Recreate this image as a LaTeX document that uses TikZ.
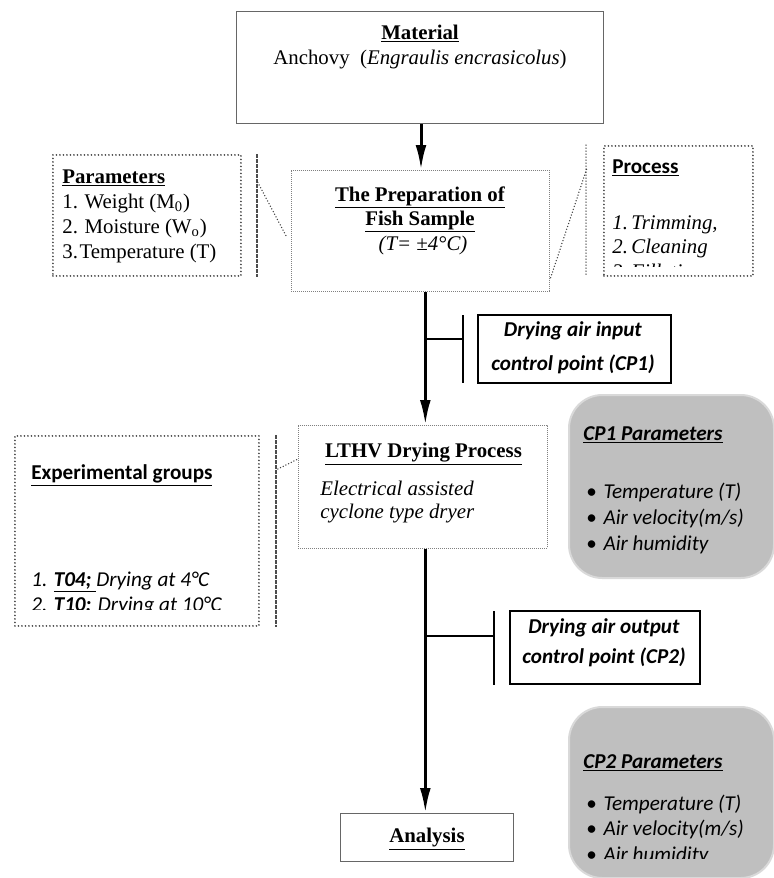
\documentclass[tikz,border=0pt]{standalone}
\usepackage{fontspec}
\setmainfont{Liberation Serif}
\newfontfamily\calibri{Carlito}
\usetikzlibrary{arrows.meta,positioning}

\tikzset{
  box/.style={draw=gray!80!black, line width=0.6pt, inner sep=0pt, anchor=north west},
  finebox/.style={draw=gray, line width=0.4pt, dash pattern=on 0.6pt off 0.6pt, inner sep=0pt, anchor=north west},
  dotbox/.style={draw=gray!50!black, line width=1.1pt, dash pattern=on 0pt off 2.1pt, line cap=round, inner sep=0pt, anchor=north west},
  cpbox/.style={draw, line width=1.2pt, inner sep=0pt, anchor=north west},
  parbox/.style={fill=gray!50, draw=gray!30, line width=1.2pt, rounded corners=20pt, inner sep=0pt, anchor=north west},
  flow/.style={line width=1.8pt, -{Latex[length=15pt,width=6.5pt]}},
  tap/.style={line width=1.2pt},
  grayrule/.style={draw=gray!60!black, line width=1.1pt, dash pattern=on 2.5pt off 0.5pt},
  dotlink/.style={draw=gray!50!black, line width=0.9pt, dash pattern=on 0pt off 1.8pt, line cap=round},
  txt/.style={inner sep=0pt, anchor=base west, font=\fontsize{12.5}{15}\selectfont},
  ctxt/.style={inner sep=0pt, anchor=base, font=\fontsize{12.5}{15}\selectfont},
  cal/.style={inner sep=0pt, anchor=base west, font=\calibri\fontsize{12.7}{15}\selectfont},
  ccal/.style={inner sep=0pt, anchor=base, font=\calibri\fontsize{12.7}{15}\selectfont},
}

\begin{document}
\begin{tikzpicture}[x=0.6pt, y=-0.6pt]
   \useasboundingbox (0,0) rectangle (774,878);

   % main column
   \node[box, minimum width=220.2pt, minimum height=67.2pt] (mat) at (236,11) {};
   \node[ctxt] (matT) at (420,39) {\underline{\textbf{Material}}};
   \node[ctxt] (matS) at (420,64) {Anchovy\ \ (\textit{Engraulis encrasicolus})};

   \node[finebox, minimum width=154.8pt, minimum height=72.6pt] (prep) at (291,170) {};
   \node[ctxt] (prepA) at (420,201) {\underline{\textbf{The Preparation of}}};
   \node[ctxt] (prepB) at (420,225) {\underline{\textbf{Fish Sample}}};
   \node[ctxt] (prepC) at (423,250) {\textit{(T= ±4°C)}};

   \node[finebox, minimum width=149.4pt, minimum height=73.8pt] (lthv) at (298,425) {};
   \node[ctxt] (lthvT) at (423.5,457) {\underline{\textbf{LTHV Drying Process}}};
   \node[txt] (lthvA) at (320,495) {\textit{Electrical assisted}};
   \node[txt] (lthvB) at (320,518) {\textit{cyclone type dryer}};

   \node[box, minimum width=103.8pt, minimum height=28.8pt] (ana) at (340,813) {};
   \node[ctxt] (anaT) at (427,842) {\underline{\textbf{Analysis}}};

   \coordinate (f2) at ([xshift=3pt]prep.south);
   \coordinate (f3) at ([xshift=1.5pt]lthv.south);
   \draw[flow] ([xshift=0.6pt]mat.south) -- ([xshift=0.6pt]mat.south |- prep.north);
   \draw[flow] (f2) -- (f2 |- lthv.north);
   \draw[flow] (f3) -- (f3 |- ana.north);

   % parameters and process
   \node[dotbox, minimum width=112.8pt, minimum height=72.6pt] (par) at (52,154) {};
   \node[txt] (parT) at (62,183) {\underline{\textbf{Parameters}}};
   \node[txt] (par1) at (62,208) {1.\hspace{4pt}Weight (M\textsubscript{0})};
   \node[txt] (par2) at (62,233) {2.\hspace{4pt}Moisture (W\textsubscript{o})};
   \node[txt] (par3) at (62,258) {3.\hspace{1pt}Temperature (T)};
   \draw[grayrule] ([xshift=9pt]par.north east) -- ([xshift=9pt]par.south east);
   \draw[dotlink] ([xshift=9.6pt,yshift=-17pt]par.north east) -- ([xshift=-2.4pt,yshift=-4pt]prep.west);

   \node[dotbox, minimum width=89.4pt, minimum height=78pt] (proc) at (603,145) {};
   \node[cal] (procT) at (612,173) {\underline{\textbf{Process}}};
   \node[txt] (proc1) at (612,229) {\textit{1.\,Trimming,}};
   \node[txt] (proc2) at (612,253) {\textit{2.\,Cleaning}};
   \begin{scope}
      \clip (600,150) rectangle (760,266);
      \node[txt] (proc3) at (612,278) {\textit{3.\,Filleting}};
   \end{scope}
   \draw[dotlink] ([xshift=-10.2pt]proc.north west) -- ([xshift=-10.2pt]proc.south west);
   \draw[dotlink] ([xshift=0.6pt,yshift=8.4pt]prep.south east) -- ([xshift=-9.6pt,yshift=-13.8pt]proc.north west);

   % control point 1
   \node[cpbox, minimum width=115.8pt, minimum height=40.8pt] (cp1) at (477,314) {};
   \node[ccal] (cp1A) at (573,336) {\textbf{\textit{Drying air input}}};
   \node[ccal] (cp1B) at (573,370) {\textbf{\textit{control point (CP1)}}};
   \coordinate (t1) at ([xshift=-8.4pt,yshift=6pt]cp1.west);
   \draw[tap] ([xshift=-8.4pt,yshift=-0.6pt]cp1.north west) -- ([xshift=-8.4pt,yshift=0.6pt]cp1.south west);
   \draw[tap] (t1 -| f2) -- (t1);

   % experimental groups
   \node[dotbox, minimum width=146.4pt, minimum height=114pt] (exp) at (14,435) {};
   \node[cal] (expT) at (31,479) {\underline{\textbf{Experimental groups}}};
   \node[cal] (exp1) at (31,586) {\textit{1. \underline{\textbf{T04;} }Drying at 4°C}};
   \begin{scope}
      \clip (20,440) rectangle (255,609.5);
      \node[cal] (exp2) at (31,611) {\textit{2. \textbf{T10:} Drying at 10°C}};
   \end{scope}
   \draw[grayrule] ([xshift=9.6pt]exp.north east) -- ([xshift=9.6pt]exp.south east);
   \draw[dotlink] ([xshift=10.8pt,yshift=-20.4pt]exp.north east) -- ([yshift=-20.4pt]lthv.north west);

   % CP1 parameters
   \node[parbox, minimum width=123pt, minimum height=109.8pt] (cp1p) at (568,394) {};
   \node[cal] (cp1pT) at (583,440) {\underline{\textbf{\textit{CP1 Parameters}}}};
   \node[cal] (cp1p1) at (586,498) {\textbullet\hspace{4pt}\textit{Temperature (T)}};
   \node[cal] (cp1p2) at (586,524) {\textbullet\hspace{4pt}\textit{Air velocity(m/s)}};
   \node[cal] (cp1p3) at (586,550) {\textbullet\hspace{4pt}\textit{Air humidity}};

   % control point 2
   \node[cpbox, minimum width=114pt, minimum height=43.8pt] (cp2) at (509,610) {};
   \node[ccal] (cp2A) at (604,633) {\textbf{\textit{Drying air output}}};
   \node[ccal] (cp2B) at (604,663) {\textbf{\textit{control point (CP2)}}};
   \coordinate (t2) at ([xshift=-9pt,yshift=6.9pt]cp2.west);
   \draw[tap] ([xshift=-9pt,yshift=-0.6pt]cp2.north west) -- ([xshift=-9pt]cp2.south west);
   \draw[tap] (t2 -| f3) -- (t2);

   % CP2 parameters
   \node[parbox, minimum width=123pt, minimum height=102.6pt] (cp2p) at (568,706) {};
   \node[cal] (cp2pT) at (583,768) {\underline{\textbf{\textit{CP2 Parameters}}}};
   \node[cal] (cp2p1) at (586,810) {\textbullet\hspace{4pt}\textit{Temperature (T)}};
   \node[cal] (cp2p2) at (586,835) {\textbullet\hspace{4pt}\textit{Air velocity(m/s)}};
   \begin{scope}
      \clip (575,840) rectangle (770,858);
      \node[cal] (cp2p3) at (586,861) {\textbullet\hspace{4pt}\textit{Air humidity}};
   \end{scope}
\end{tikzpicture}
\end{document}
